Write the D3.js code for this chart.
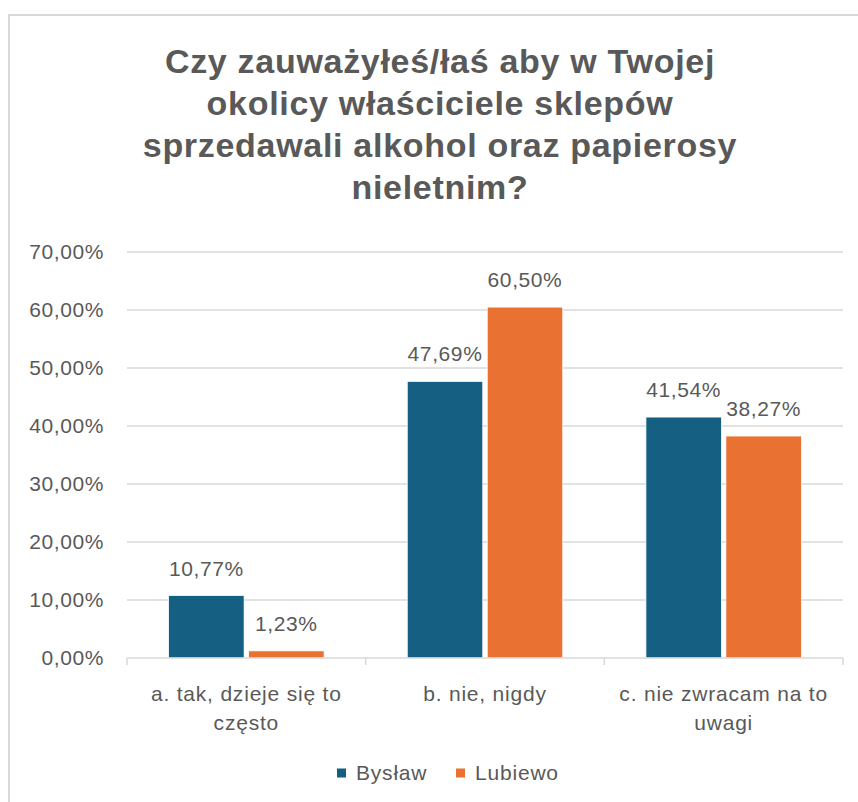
<!DOCTYPE html>
<html>
<head>
<meta charset="utf-8">
<script src="https://cdn.jsdelivr.net/npm/d3@7"></script>
<style>
  html, body { margin: 0; padding: 0; background: #fff; }
  svg { display: block; font-family: "Liberation Sans", Arial, sans-serif; }
</style>
</head>
<body>
<svg id="chart" width="858" height="802"></svg>
<script>
const titleLines = [
  "Czy zauważyłeś/łaś aby w Twojej",
  "okolicy właściciele sklepów",
  "sprzedawali alkohol oraz papierosy",
  "nieletnim?"
];
const categories = [
  ["a. tak, dzieje się to", "często"],
  ["b. nie, nigdy"],
  ["c. nie zwracam na to", "uwagi"]
];
const seriesNames = ["Bysław", "Lubiewo"];
const bystaw = [10.77, 47.69, 41.54];
const lubiewo = [1.23, 60.50, 38.27];
const yTicks = [0, 10, 20, 30, 40, 50, 60, 70];

const colors = ["#156082", "#E97132"];
const textColor = "#595959";
const gridColor = "#d9d9d9";

const svg = d3.select("#chart");
const margin = { top: 252, right: 15, bottom: 144, left: 127 };
const width = 858, height = 802;

// frame (right/bottom edges fall outside the picture)
svg.append("rect")
  .attr("x", 9).attr("y", 15)
  .attr("width", 880).attr("height", 820)
  .attr("fill", "none")
  .attr("stroke", gridColor)
  .attr("stroke-width", 2);

// title
svg.append("text")
  .attr("text-anchor", "middle")
  .attr("fill", textColor)
  .style("font-weight", "bold")
  .style("font-size", "34px")
  .style("letter-spacing", "0.7px")
  .selectAll("tspan")
  .data(titleLines)
  .join("tspan")
  .attr("x", 440)
  .attr("y", (d, i) => 73 + i * 42)
  .text(d => d);

const keys = categories.map((c, i) => i);
const x0 = d3.scaleBand()
  .domain(keys)
  .range([margin.left, width - margin.right]);

const x1 = d3.scaleBand()
  .domain(seriesNames)
  .range([0, x0.bandwidth()])
  .paddingInner(0.056)
  .paddingOuter(0.52);

const y = d3.scaleLinear()
  .domain([0, 70])
  .range([height - margin.bottom, margin.top]);

// gridlines
svg.append("g")
  .selectAll("line")
  .data(yTicks.slice(1))
  .join("line")
  .attr("x1", margin.left)
  .attr("x2", width - margin.right)
  .attr("y1", d => y(d))
  .attr("y2", d => y(d))
  .attr("stroke", gridColor)
  .attr("stroke-width", 1.5);

// y axis labels
const fmt = v => v.toFixed(2).replace(".", ",") + "%";
svg.append("g")
  .selectAll("text")
  .data(yTicks)
  .join("text")
  .attr("x", 104)
  .attr("y", d => y(d))
  .attr("dy", "0.35em")
  .attr("text-anchor", "end")
  .attr("fill", textColor)
  .style("font-size", "21px")
  .style("letter-spacing", "0.6px")
  .text(fmt);

// bars
const rows = keys.map(i => ({ i, values: [bystaw[i], lubiewo[i]] }));
const groups = svg.append("g")
  .selectAll("g")
  .data(rows)
  .join("g")
  .attr("transform", d => `translate(${x0(d.i)},0)`);

groups.selectAll("rect")
  .data(d => d.values.map((v, k) => ({ v, k })))
  .join("rect")
  .attr("x", d => x1(seriesNames[d.k]))
  .attr("width", x1.bandwidth())
  .attr("y", d => y(d.v))
  .attr("height", d => y(0) - y(d.v))
  .attr("fill", d => colors[d.k])
  .attr("stroke", "#fff")
  .attr("stroke-width", 0.75);

groups.selectAll("text")
  .data(d => d.values.map((v, k) => ({ v, k })))
  .join("text")
  .attr("x", d => x1(seriesNames[d.k]) + x1.bandwidth() / 2)
  .attr("y", d => y(d.v) - 20)
  .attr("text-anchor", "middle")
  .attr("fill", textColor)
  .style("font-size", "21px")
  .style("letter-spacing", "0.6px")
  .text(d => fmt(d.v));

// x axis
const xAxis = svg.append("g");
xAxis.append("line")
  .attr("x1", margin.left)
  .attr("x2", width - margin.right)
  .attr("y1", y(0))
  .attr("y2", y(0))
  .attr("stroke", gridColor)
  .attr("stroke-width", 1.5);

const bounds = keys.map(i => x0(i)).concat([width - margin.right]);
xAxis.selectAll(".tick")
  .data(bounds)
  .join("line")
  .attr("class", "tick")
  .attr("x1", d => d)
  .attr("x2", d => d)
  .attr("y1", y(0))
  .attr("y2", y(0) + 7)
  .attr("stroke", gridColor)
  .attr("stroke-width", 1.5);

xAxis.selectAll(".cat")
  .data(categories)
  .join("text")
  .attr("class", "cat")
  .attr("text-anchor", "middle")
  .attr("fill", textColor)
  .style("font-size", "21px")
  .style("letter-spacing", "0.8px")
  .selectAll("tspan")
  .data((d, i) => d.map((line, j) => ({ line, j, i })))
  .join("tspan")
  .attr("x", d => x0(d.i) + x0.bandwidth() / 2)
  .attr("y", d => y(0) + 43 + d.j * 29)
  .text(d => d.line);

// legend
const legendPos = [337, 456];
const legend = svg.append("g")
  .selectAll("g")
  .data(seriesNames)
  .join("g")
  .attr("transform", (d, i) => `translate(${legendPos[i]},773)`);

legend.append("rect")
  .attr("x", 0).attr("y", -4.5)
  .attr("width", 9).attr("height", 9)
  .attr("fill", (d, i) => colors[i]);

legend.append("text")
  .attr("x", 19)
  .attr("dy", "0.35em")
  .attr("fill", textColor)
  .style("font-size", "21px")
  .style("letter-spacing", "0.8px")
  .text(d => d);
</script>
</body>
</html>
